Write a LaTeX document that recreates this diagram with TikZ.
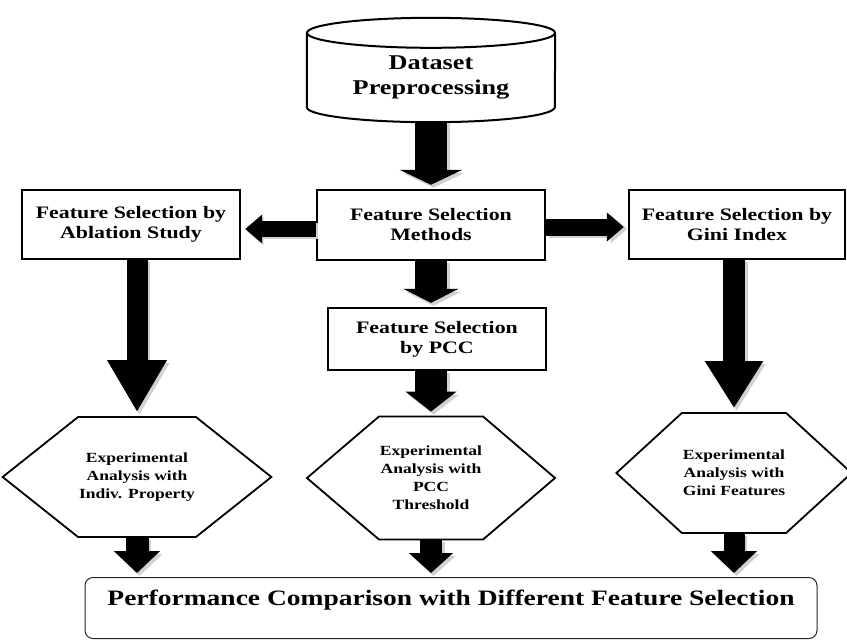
\documentclass[tikz,border=0pt]{standalone}
\usepackage{fontspec}
\setmainfont[FakeStretch=1.25]{Liberation Serif}
\usetikzlibrary{arrows.meta,shapes.symbols,calc}

\tikzset{
fsbox/.style={draw,line width=2.4pt,minimum height=69pt,align=center,
  inner sep=2pt,font=\fontsize{17.5}{20}\selectfont\bfseries},
hexbox/.style={draw,line width=1.8pt,signal,signal to=west and east,
  minimum height=120pt,align=center,inner sep=1pt,
  font=\fontsize{14}{18}\selectfont\bfseries},
fatarrow/.style n args={3}{draw=black,line width=#1pt,shorten >=4pt,
  -{Triangle[width=#2pt,length=#3pt]}},
fatshadow/.style n args={3}{draw=black!18,line width=#1pt,shorten >=3pt,
  transform canvas={shift={(2.5pt,-2pt)}},
  -{Triangle[width=#2pt,length=#3pt]}}
}

\begin{document}
\begin{tikzpicture}[x=1pt,y=-1pt]
\useasboundingbox (0,0) rectangle (847,641);

% top of the flow
\node[minimum width=248pt,minimum height=89pt,align=center,
  font=\fontsize{21}{25}\selectfont\bfseries] (data) at (431,77.5)
  {Dataset\\Preprocessing};
\draw[line width=2pt] (data.north west) -- ([yshift=15pt]data.south west)
  arc[start angle=180,end angle=360,x radius=124pt,y radius=15pt]
  -- (data.north east);
\draw[line width=2pt] (data.north) ellipse [x radius=124pt,y radius=15pt];

\node[fsbox,minimum width=228pt,minimum height=70pt] (meth) at (431,225)
  {Feature Selection\\Methods};
\node[fsbox,minimum width=218pt] (abl) at (131,224.5)
  {Feature Selection by\\Ablation Study};
\node[fsbox,minimum width=216pt] (gini) at (737,224.5)
  {Feature Selection by\\Gini Index};
\node[fsbox,minimum width=218pt,minimum height=62pt] (pcc) at (437,339)
  {Feature Selection\\by PCC};

% experiments
\node[hexbox,minimum width=247pt,signal pointer angle=77] (hexA) at (137,477)
  {Experimental\\Analysis with\\Indiv. Property};
\node[hexbox,minimum width=235pt,minimum height=123pt,signal pointer angle=81]
  (hexB) at (431,478) {Experimental\\Analysis with\\PCC\\Threshold};
\node[hexbox,minimum width=223pt,signal pointer angle=85] (hexC) at (734,473)
  {Experimental\\Analysis with\\Gini Features};

\node[draw=black!85,line width=1pt,rounded corners=8pt,minimum width=732pt,
  text height=23pt,text depth=28pt,inner sep=5pt,anchor=north,
  font=\fontsize{22}{24}\selectfont\bfseries] (perf) at (451,577)
  {Performance Comparison with Different Feature Selection};

\coordinate (mw) at ([yshift=-4pt]meth.west);
\coordinate (me) at ([yshift=-2pt]meth.east);

% block arrows
\foreach \s/\e/\w/\hw/\hl in {
  data.south/meth.north/32/62/15,
  meth.south/meth.south |- pcc.north/32/55/14,
  meth.south |- pcc.south/hexB.north/32/50/20,
  hexB.south/hexB.south |- perf.north/22/43/20,
  mw/abl.east |- mw/16/28/17,
  me/gini.west |- me/17/28/17,
  hexA.north |- abl.south/hexA.north/21/56/52,
  hexC.north |- gini.south/hexC.north/22/55/47,
  hexA.south/hexA.south |- perf.north/23/45/22,
  hexC.south/hexC.south |- perf.north/21/45/22}
{
  \draw[fatshadow={\w}{\hw}{\hl}] (\s) -- (\e);
  \draw[fatarrow={\w}{\hw}{\hl}] (\s) -- (\e);
}
\end{tikzpicture}
\end{document}
